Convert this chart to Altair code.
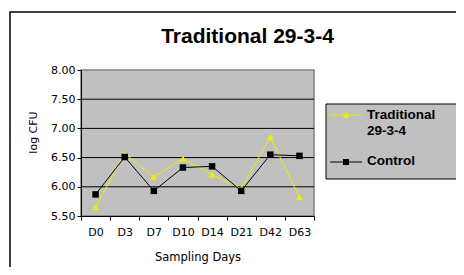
import altair as alt
import pandas as pd

days = ["D0", "D3", "D7", "D10", "D14", "D21", "D42", "D63"]
traditional = [5.65, 6.57, 6.17, 6.48, 6.21, 5.97, 6.85, 5.82]
control = [5.87, 6.51, 5.93, 6.33, 6.35, 5.93, 6.55, 6.53]
series_names = ["Traditional 29-3-4", "Control"]
legend_lines = [["Traditional", "29-3-4"], ["Control"]]
series_colors = ["#EEEE00", "#000000"]
series_shapes = ["triangle-up", "square"]
y_ticks = [5.5, 6.0, 6.5, 7.0, 7.5, 8.0]
y_grid = [6.0, 6.5, 7.0, 7.5]

rows = []
for d, t, c in zip(days, traditional, control):
    rows.append({"Day": d, "Series": series_names[0], "Value": t})
    rows.append({"Day": d, "Series": series_names[1], "Value": c})
df = pd.DataFrame(rows)
grid_df = pd.DataFrame({"Value": y_grid})

x_enc = alt.X(
    "Day:N", sort=days,
    scale=alt.Scale(type="band", paddingInner=0, paddingOuter=0),
    axis=alt.Axis(
        title="Sampling Days", labelAngle=0, tickBand="extent",
        domainColor="black", tickColor="black", tickSize=4,
        labelFont="DejaVu Sans", labelFontSize=11, labelColor="black",
        labelPadding=6, titleFont="DejaVu Sans", titleFontSize=11.5,
        titleFontWeight="normal", titleColor="black", titleY=41,
        titleBaseline="middle", grid=False, zindex=1,
    ),
)
y_scale = alt.Scale(domain=[5.5, 8.0], nice=False, zero=False)
y_enc = alt.Y(
    "Value:Q", scale=y_scale,
    axis=alt.Axis(
        values=y_ticks, format=".2f", title="log CFU",
        titleX=-48, titleY=62, titleAlign="center", titleBaseline="middle",
        titleFont="DejaVu Sans", titleFontSize=11, titleFontWeight="normal",
        titleColor="black", labelFont="DejaVu Sans", labelFontSize=11,
        labelColor="black", labelPadding=2, tickSize=4, tickColor="black",
        domainColor="black", grid=False, zindex=1,
    ),
)

color_enc = alt.Color("Series:N", scale=alt.Scale(domain=series_names, range=series_colors), legend=None)

one = alt.Data(values=[{}])
outer = alt.Chart(one).mark_rect(fill="white", stroke="black", strokeWidth=1.5).encode(
    x=alt.value(-71), x2=alt.value(420), y=alt.value(-58), y2=alt.value(300)
)
plot_bg = alt.Chart(one).mark_rect(fill="#C0C0C0", stroke="#808080", strokeWidth=1.5).encode(
    x=alt.value(0), x2=alt.value(233), y=alt.value(0), y2=alt.value(146)
)
grid = alt.Chart(grid_df).mark_rule(color="black", strokeWidth=1).encode(y=y_enc)

lines = alt.Chart(df).mark_line(strokeWidth=1).encode(x=x_enc, y=y_enc, color=color_enc, detail="Series:N")
pts_t = alt.Chart(df).transform_filter(alt.datum.Series == series_names[0]).mark_point(
    filled=True, shape=series_shapes[0], size=50, opacity=1
).encode(x=x_enc, y=y_enc, color=color_enc)
pts_c = alt.Chart(df).transform_filter(alt.datum.Series == series_names[1]).mark_point(
    filled=True, shape=series_shapes[1], size=42, opacity=1
).encode(x=x_enc, y=y_enc, color=color_enc)

# legend (drawn as a framed box with line+marker samples)
legend_box = alt.Chart(one).mark_rect(fill="#C0C0C0", stroke="black", strokeWidth=1).encode(
    x=alt.value(245), x2=alt.value(420), y=alt.value(34), y2=alt.value(109)
)
legend_parts = []
for i, (name, col, shp, txt) in enumerate(zip(series_names, series_colors, series_shapes, legend_lines)):
    ly = 45 + 47 * i
    legend_parts.append(alt.Chart(one).mark_rule(color=col, strokeWidth=1).encode(
        x=alt.value(249), x2=alt.value(281), y=alt.value(ly)))
    legend_parts.append(alt.Chart(one).mark_point(
        filled=True, shape=shp, size=50 if i == 0 else 36, color=col, opacity=1
    ).encode(x=alt.value(265), y=alt.value(ly)))
    legend_parts.append(alt.Chart(one).mark_text(
        text=txt, align="left", baseline="middle", font="Liberation Sans", fontSize=13.5,
        fontWeight="bold", color="black", lineHeight=15.5
    ).encode(x=alt.value(286), y=alt.value(ly - (0 if len(txt) > 1 else 1))))

chart = alt.layer(outer, plot_bg, grid, lines, pts_t, pts_c, legend_box, *legend_parts).properties(
    width=233, height=146,
    autosize=alt.AutoSizeParams(type="none"),
    padding={"left": 73, "top": 62, "right": 142, "bottom": 51},
    title=alt.TitleParams(
        "Traditional 29-3-4", font="Liberation Sans", fontSize=21, fontWeight="bold",
        color="black", anchor="middle", dx=50, offset=-52.5, baseline="alphabetic", zindex=2,
    ),
    background="white",
).configure_view(
    stroke="transparent"
)

chart.save("out.html", embed_options={"renderer": "svg", "actions": False})
